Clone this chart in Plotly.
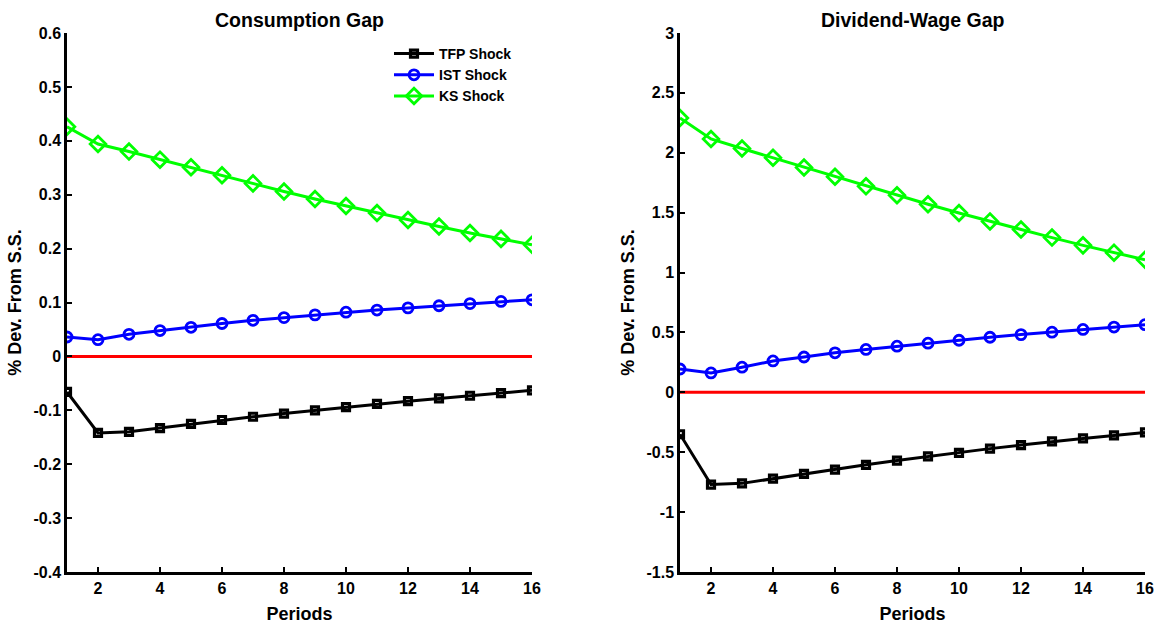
import plotly.graph_objects as go

periods = list(range(1, 17))

# Consumption Gap
cons_tfp = [-0.066, -0.142, -0.140, -0.133, -0.125, -0.118, -0.112, -0.106, -0.100, -0.094, -0.088, -0.083, -0.078, -0.073, -0.068, -0.063]
cons_ist = [0.036, 0.031, 0.041, 0.048, 0.054, 0.061, 0.067, 0.072, 0.077, 0.082, 0.086, 0.090, 0.094, 0.098, 0.102, 0.105]
cons_ks = [0.426, 0.394, 0.380, 0.365, 0.351, 0.336, 0.321, 0.306, 0.292, 0.279, 0.266, 0.253, 0.241, 0.229, 0.218, 0.207]

# Dividend-Wage Gap
dw_tfp = [-0.35, -0.77, -0.76, -0.72, -0.68, -0.645, -0.605, -0.57, -0.535, -0.505, -0.47, -0.44, -0.41, -0.385, -0.36, -0.335]
dw_ist = [0.195, 0.162, 0.210, 0.262, 0.295, 0.330, 0.358, 0.385, 0.410, 0.435, 0.460, 0.482, 0.502, 0.525, 0.545, 0.565]
dw_ks = [2.29, 2.115, 2.036, 1.958, 1.877, 1.800, 1.720, 1.645, 1.570, 1.497, 1.427, 1.360, 1.292, 1.227, 1.166, 1.107]

zero_line = [0.0] * 16

x_ticks = [2, 4, 6, 8, 10, 12, 14, 16]
y1_ticks = [-0.4, -0.3, -0.2, -0.1, 0, 0.1, 0.2, 0.3, 0.4, 0.5, 0.6]
y1_labels = ["-0.4", "-0.3", "-0.2", "-0.1", "0", "0.1", "0.2", "0.3", "0.4", "0.5", "0.6"]
y2_ticks = [-1.5, -1, -0.5, 0, 0.5, 1, 1.5, 2, 2.5, 3]
y2_labels = ["-1.5", "-1", "-0.5", "0", "0.5", "1", "1.5", "2", "2.5", "3"]

W, H = 1159, 626
FONT = "Liberation Sans, Arial, Helvetica, sans-serif"

fig = go.Figure()

def add_series(xa, ya, tfp, ist, ks, show):
    fig.add_trace(go.Scatter(x=periods, y=zero_line, mode="lines", line=dict(color="#ff0000", width=3),
                             xaxis=xa, yaxis=ya, showlegend=False, hoverinfo="skip"))
    fig.add_trace(go.Scatter(x=periods, y=tfp, mode="lines+markers", name="TFP Shock",
                             line=dict(color="black", width=3),
                             marker=dict(symbol="square-open", size=7, color="black", line=dict(width=3.2, color="black")),
                             xaxis=xa, yaxis=ya, showlegend=show))
    fig.add_trace(go.Scatter(x=periods, y=ist, mode="lines+markers", name="IST Shock",
                             line=dict(color="#0000ff", width=3),
                             marker=dict(symbol="circle-open", size=10, color="#0000ff", line=dict(width=2.8, color="#0000ff")),
                             xaxis=xa, yaxis=ya, showlegend=show))
    fig.add_trace(go.Scatter(x=periods, y=ks, mode="lines+markers", name="KS Shock",
                             line=dict(color="#00ff00", width=3),
                             marker=dict(symbol="diamond-open", size=12, color="#00ff00", line=dict(width=2.8, color="#00ff00")),
                             xaxis=xa, yaxis=ya, showlegend=show))

add_series("x", "y", cons_tfp, cons_ist, cons_ks, True)
add_series("x2", "y2", dw_tfp, dw_ist, dw_ks, False)

top = 1 - 33 / H
bot = 1 - 572 / H
d1 = [67 / W, 532 / W]
d2 = [680 / W, 1145 / W]

axis_common = dict(showline=True, linecolor="black", linewidth=2.5, ticks="inside", ticklen=5, tickwidth=2,
                   tickcolor="black", showgrid=False, zeroline=False, mirror=False, automargin=False,
                   tickfont=dict(family=FONT, size=16, color="black", weight="bold"))

fig.update_layout(
    width=W, height=H, margin=dict(l=0, r=0, t=0, b=0),
    plot_bgcolor="white", paper_bgcolor="white",
    font=dict(family=FONT, color="black"),
    xaxis=dict(domain=d1, range=[1, 16], tickvals=x_ticks, anchor="y",
               title=dict(text="<b>Periods</b>", font=dict(size=18), standoff=12), **axis_common),
    yaxis=dict(domain=[bot, top], range=[-0.4, 0.6], tickvals=y1_ticks, ticktext=y1_labels, anchor="x",
               title=dict(text="<b>% Dev. From S.S.</b>", font=dict(size=18), standoff=8), **axis_common),
    xaxis2=dict(domain=d2, range=[1, 16], tickvals=x_ticks, anchor="y2",
                title=dict(text="<b>Periods</b>", font=dict(size=18), standoff=12), **axis_common),
    yaxis2=dict(domain=[bot, top], range=[-1.5, 3], tickvals=y2_ticks, ticktext=y2_labels, anchor="x2",
                title=dict(text="<b>% Dev. From S.S.</b>", font=dict(size=18), standoff=8), **axis_common),
    legend=dict(x=389 / W, y=1 - 38 / H, xanchor="left", yanchor="top", bgcolor="rgba(255,255,255,0)",
                font=dict(family=FONT, size=14, color="black", weight="bold"), tracegroupgap=0, itemwidth=40),
    annotations=[
        dict(text="<b>Consumption Gap</b>", x=(d1[0] + d1[1]) / 2, y=1 - 20 / H, xref="paper", yref="paper",
             showarrow=False, font=dict(family=FONT, size=19.5, color="black"), xanchor="center", yanchor="middle"),
        dict(text="<b>Dividend-Wage Gap</b>", x=(d2[0] + d2[1]) / 2, y=1 - 20 / H, xref="paper", yref="paper",
             showarrow=False, font=dict(family=FONT, size=19.5, color="black"), xanchor="center", yanchor="middle"),
    ],
)

fig.write_html("out.html")
